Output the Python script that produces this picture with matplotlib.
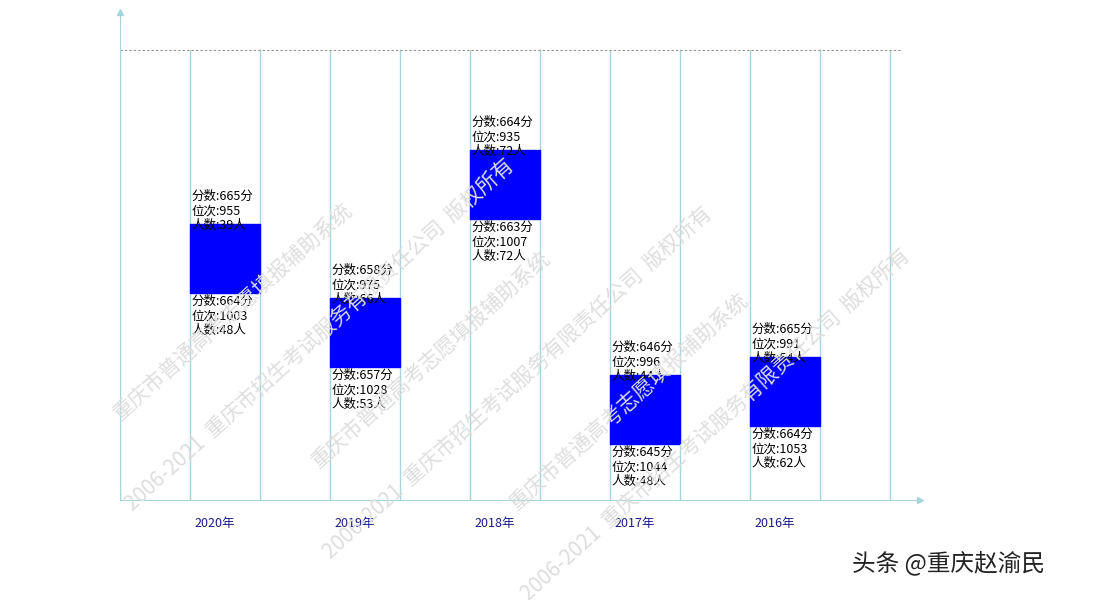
import matplotlib.pyplot as plt
from matplotlib.patches import Rectangle

plt.rcParams['font.family'] = ['Noto Sans CJK SC', 'DejaVu Sans']

# -----------------------
# Data
# -----------------------
years = ["2020年", "2019年", "2018年", "2017年", "2016年"]
top_score = [665, 658, 664, 646, 665]
top_rank = [955, 975, 935, 996, 991]
top_count = [39, 66, 72, 44, 54]
low_score = [664, 657, 663, 645, 664]
low_rank = [1003, 1028, 1007, 1044, 1053]
low_count = [48, 53, 72, 48, 62]
# vertical position of each box (estimated, chart units)
box_top = [276, 202, 350, 125, 143]
box_height = 69

LINE_COLOR = "#a6d6dc"

fig = plt.figure(figsize=(11, 6), dpi=100)
ax = fig.add_axes([120 / 1100, 100 / 600, 800 / 1100, 488 / 600])
ax.set_xlim(0, 800 / 70)
ax.set_ylim(0, 488)

# vertical grid lines
for k in range(12):
    ax.axvline(k, ymin=0, ymax=450 / 488, color=LINE_COLOR, lw=1, zorder=1)
ax.axhline(450, xmin=0, xmax=780 / 800, color="#909090", lw=0.8, ls=(0, (2, 2)), zorder=1)

for i, yr in enumerate(years):
    x0 = 1 + 2 * i
    y0 = box_top[i] - box_height
    ax.add_patch(Rectangle((x0, y0), 1, box_height, color="#0000ff", zorder=3))
    ax.text(x0 + 0.02, box_top[i] - 8,
            f"分数:{top_score[i]}分\n位次:{top_rank[i]}\n人数:{top_count[i]}人",
            fontsize=9, va="bottom", ha="left", linespacing=1.15, zorder=4)
    ax.text(x0 + 0.02, y0 - 2,
            f"分数:{low_score[i]}分\n位次:{low_rank[i]}\n人数:{low_count[i]}人",
            fontsize=9, va="top", ha="left", linespacing=1.15, zorder=4)

ax.set_xticks([1.35 + 2 * i for i in range(len(years))])
ax.set_xticklabels(years, color="#1a1a8c", fontsize=9)
ax.tick_params(length=0, pad=12)
ax.set_yticks([])

for s in ["top", "right"]:
    ax.spines[s].set_visible(False)
ax.spines["left"].set_color(LINE_COLOR)
ax.spines["bottom"].set_color(LINE_COLOR)
ax.plot(1, 0, ">", color=LINE_COLOR, ms=4, transform=ax.transAxes, clip_on=False)
ax.plot(0, 1, "^", color=LINE_COLOR, ms=4, transform=ax.transAxes, clip_on=False)

# faint watermark
wm1 = "重庆市普通高考志愿填报辅助系统"
wm2 = "2006-2021  重庆市招生考试服务有限责任公司  版权所有"
for xs, ys in [(0.10, 0.30), (0.28, 0.22), (0.46, 0.15)]:
    fig.text(xs, ys, wm1, fontsize=15, color="#dedede", rotation=42, zorder=0)
    fig.text(xs + 0.01, ys - 0.15, wm2, fontsize=15, color="#dedede", rotation=42, zorder=0)

fig.text(0.775, 0.05, "头条 @重庆赵渝民", fontsize=17, color="#222222")

fig.savefig("out.png")
